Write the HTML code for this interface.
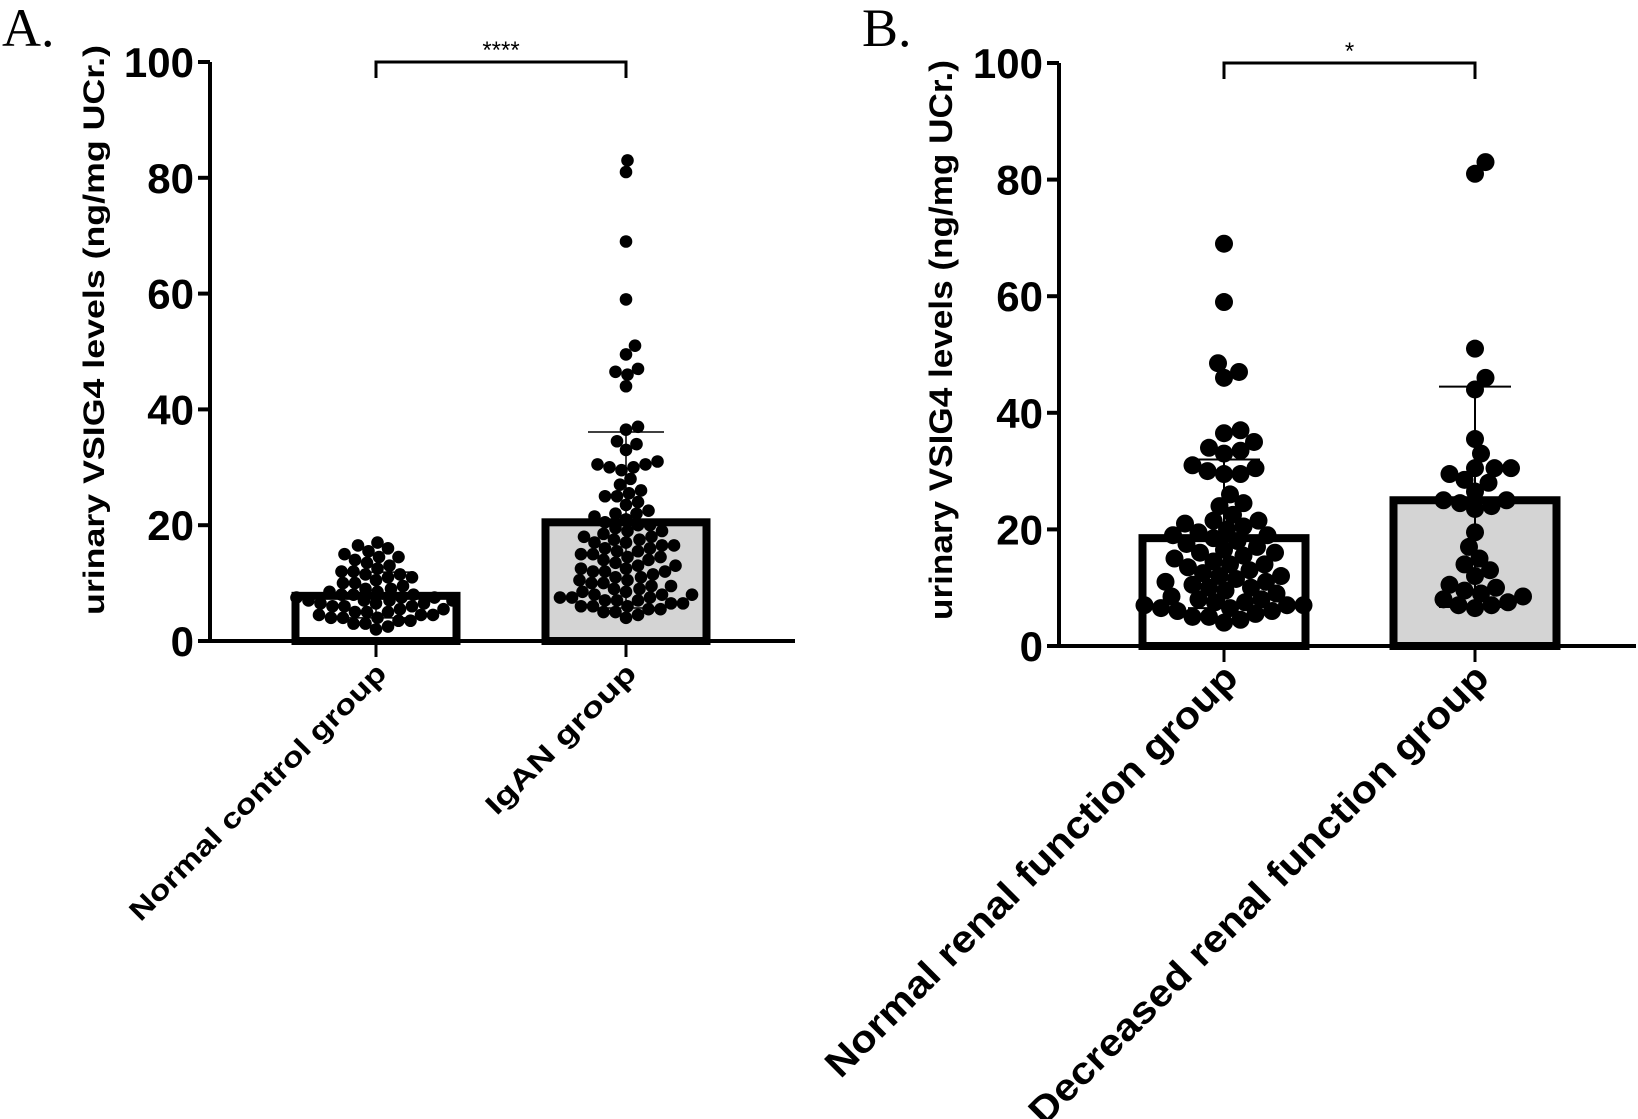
<!DOCTYPE html>
<html><head><meta charset="utf-8">
<style>
html,body{margin:0;padding:0;background:#fff;}
svg{display:block;font-family:"Liberation Sans",sans-serif;}
</style></head>
<body>
<svg id="chart" width="1638" height="1119" viewBox="0 0 1638 1119" xmlns="http://www.w3.org/2000/svg"></svg>
<script>
// ---- Panel A data ----
const catsA = ["Normal control group", "IgAN group"];
const meansA = [7.8, 20.5];
const sdLowA = [4.0, 5.7];
const sdHighA = [11.9, 36.1];
const dotsA0 = [17,16.5,16,15.5,15,14.5,14.5,14,13.5,13,12.5,12,12,11.5,11.5,11,11,10.5,10,10,9.5,9,9,8.5,8.5,8,8,8,7.5,7.5,7.5,7,7,7,7,6.5,6.5,6.5,6,6,6,5.5,5.5,5,5,5,4.5,4.5,4.5,4,4,4,3.5,3.5,3,3,2.5,2];
const dotsA1 = [83,81,69,59,51,49.5,47,46.5,46,44,37,36.5,34.5,34,33,31,30.5,30.5,30,30,29.5,28,27,26,25.5,25,25,24,23.5,22.5,22,22,21.5,21,20.5,20,20,19.5,19,19,18.5,18,18,17.5,17.5,17,17,16.5,16.5,16,16,15.5,15.5,15,15,14.5,14.5,14,14,13.5,13,13,12.5,12.5,12,12,12,11.5,11,11,10.5,10.5,10,10,9.5,9.5,9,9,8.5,8.5,8,8,8,7.5,7.5,7.5,7,7,7,6.5,6.5,6,6,6,5.5,5.5,5,5,4.5,4];
const sigA = "****";
// ---- Panel B data ----
const catsB = ["Normal renal function group", "Decreased renal function group"];
const meansB = [18.5, 25.0];
const sdLowB = [6.5, 6.7];
const sdHighB = [32.0, 44.5];
const dotsB0 = [69,59,48.5,47,46,37,36.5,35,34,33.5,33,31,30.5,30,29.5,29.5,26,24.5,24,22.5,21.5,21.5,21,20.5,20,19.5,19,19,18.5,18,17.5,17,16.5,16,16,15.5,15,14.5,14,14,13.5,13,12.5,12,12,11.5,11,11,10.5,10,10,9.5,9,8.5,8,8,7.5,7.5,7,7,7,6.5,6.5,6,6,5.5,5,5,4.5,4];
const dotsB1 = [83,81,51,46,44,35.5,33,30.5,30.5,30.5,29.5,28.5,28,26.5,25,25,24.5,24,23.5,19.5,17,15,14,13,12,10.5,10,9.5,9,8.5,8,7.5,7,7,6.5];
const sigB = "*";
const yTicks = [0,20,40,60,80,100];

const NS="http://www.w3.org/2000/svg";
const svg=document.getElementById('chart');
function mk(tag,attrs,parent){const e=document.createElementNS(NS,tag);for(const k in attrs)e.setAttribute(k,attrs[k]);(parent||svg).appendChild(e);return e;}

function panel(cfg){
  const g=mk('g',{});
  
  
  const y=v=>cfg.y0-(cfg.y0-cfg.y100)*v/100;
  const L=mk('text',{x:cfg.letterX,y:46,'font-family':'"Liberation Serif",serif','font-size':54},g);
  L.textContent=cfg.letter;
  
  
  const yt=mk('text',{x:0,y:0,'font-weight':'bold','font-size':cfg.ytFont,'text-anchor':'middle',transform:`translate(${cfg.ytX},${cfg.ytY}) rotate(-90)`,textLength:cfg.ytLen,lengthAdjust:'spacingAndGlyphs'},g);
  yt.textContent="urinary VSIG4 levels (ng/mg UCr.)";
  
  
  cfg.means.forEach((m,i)=>{
    const cx=cfg.centers[i];
    const r=mk('rect',{x:cx-cfg.barW/2,y:y(m),width:cfg.barW,height:cfg.y0-y(m),fill:i?'#d4d4d4':'#fff',stroke:'#000','stroke-width':8},g);
    
    
  });
  cfg.dots.forEach((arr,i)=>{
    const cx=cfg.centers[i],R=cfg.r,d=2*R*cfg.ov;
    const placed=[];
    [...arr].sort((a,b)=>a-b).forEach(v=>{
      const py=y(v);let best=null;
      for(let k=0;k<300;k++){
        for(const s of (k?[1,-1]:[1])){
          const px=cx+s*k*1.5;
          if(placed.every(p=>(p[0]-px)**2+(p[1]-py)**2>=d*d)){best=px;break;}
        }
        if(best!==null)break;
      }
      placed.push([best,py]);
      const c=mk('circle',{cx:best,cy:py,r:R,fill:'#000'},g);
      
      
    });
  });
  cfg.means.forEach((m,i)=>{
    const cx=cfg.centers[i],w=cfg.capW;
    const e=mk('path',{d:`M${cx},${y(cfg.lo[i])}V${y(cfg.hi[i])}M${cx-w},${y(cfg.hi[i])}H${cx+w}M${cx-w},${y(cfg.lo[i])}H${cx+w}`,stroke:'#000','stroke-width':cfg.errW,fill:'none'},g);
    
    
  });
  const ax=mk('path',{d:`M${cfg.ax},${cfg.y100}V${cfg.y0}H${cfg.axEnd}`,stroke:'#000','stroke-width':4,fill:'none'},g);
  
  
  yTicks.forEach(t=>{
    const tk=mk('line',{x1:cfg.ax-12,x2:cfg.ax,y1:y(t),y2:y(t),stroke:'#000','stroke-width':4},g);
    
    
    const tl=mk('text',{x:cfg.ax-16,y:y(t)+15,'text-anchor':'end','font-weight':'bold','font-size':42},g);
    tl.textContent=t;
    
    
  });
  cfg.cats.forEach((c,i)=>{
    const cx=cfg.centers[i];
    const tk=mk('line',{x1:cx,x2:cx,y1:cfg.y0,y2:cfg.y0+16,stroke:'#000','stroke-width':3},g);
    
    
    const tl=mk('text',{x:0,y:0,'text-anchor':'end','font-weight':'bold','font-size':cfg.catFont,textLength:cfg.catLen[i],lengthAdjust:'spacingAndGlyphs',transform:`translate(${cx+cfg.catDx},${cfg.y0+cfg.catDy}) rotate(-45)`},g);
    tl.textContent=c;
    
    
  });
  const c0=cfg.centers[0],c1=cfg.centers[1];
  const br=mk('path',{d:`M${c0},${cfg.brY+16}V${cfg.brY}H${c1}V${cfg.brY+16}`,stroke:'#000','stroke-width':3,fill:'none'},g);
  
  
  const st=mk('text',{x:(c0+c1)/2,y:cfg.brY-4,'text-anchor':'middle','font-size':24},g);
  st.textContent=cfg.sig;
  
  
}

panel({name:'panel-a',letter:'A.',letterX:2,ytX:104,ytY:330,ytLen:570,ytFont:30,
  ax:210,axEnd:795,y0:641,y100:62,centers:[376,626],barW:161,capW:38,errW:1.5,r:6.3,ov:0.92,
  means:meansA,lo:sdLowA,hi:sdHighA,dots:[dotsA0,dotsA1],cats:catsA,catFont:28,catLen:[350,200],catDx:12,catDy:34,brY:62,sig:sigA});
panel({name:'panel-b',letter:'B.',letterX:862,ytX:952,ytY:340,ytLen:560,ytFont:32,
  ax:1059,axEnd:1636,y0:646,y100:63,centers:[1224,1475],barW:163,capW:36,errW:2,r:9,ov:0.85,
  means:meansB,lo:sdLowB,hi:sdHighB,dots:[dotsB0,dotsB1],cats:catsB,catFont:38,catLen:[565,632],catDx:16,catDy:34,brY:63,sig:sigB});
</script>
</body></html>
